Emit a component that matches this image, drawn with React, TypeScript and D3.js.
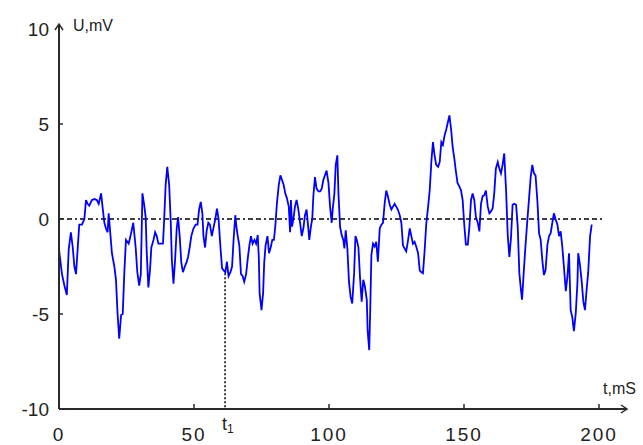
import React from "react";
import * as d3 from "d3";

const tMs: number[] = [
  0.0, 1.1, 2.0, 2.9, 3.6, 4.4, 5.1, 5.7, 6.3, 6.9, 7.5, 8.5, 9.4, 10.0, 10.6, 11.2, 12.2, 13.1, 14.0, 14.7,
  15.6, 16.2, 16.8, 17.4, 18.0, 18.4, 19.0, 19.6, 20.5, 21.1, 21.7, 22.3, 23.0, 23.6, 24.2, 24.8, 25.8, 26.7, 27.5,
  28.4, 29.0, 29.7, 30.3, 30.9, 31.5, 32.1, 32.5, 33.1, 33.7, 34.2, 35.0, 35.6, 36.2, 36.8, 37.7, 38.5, 38.9, 39.5,
  40.1, 40.8, 41.4, 41.8, 42.4, 43.0, 43.6, 44.1, 44.7, 45.3, 45.9, 46.6, 47.2, 47.8, 48.4, 49.0, 49.8, 50.6, 51.3,
  51.9, 52.5, 53.1, 53.5, 54.1, 54.7, 55.3, 55.9, 56.6,
  57.3, 57.9, 58.5, 59.1, 59.8, 60.4, 61.0, 61.6, 62.2, 62.8, 63.5, 64.1, 64.7, 65.3, 65.7, 66.2, 66.8, 67.4, 68.0,
  68.6, 69.3, 69.9, 70.5, 71.1, 71.7, 72.4, 73.0, 73.6, 74.0, 74.3, 75.0, 75.6, 76.0, 76.5, 77.2, 77.8, 78.4, 79.0,
  79.6, 80.1, 80.7, 81.4, 82.0, 82.6, 83.2, 83.8, 84.4, 85.1,
  85.6, 85.9, 86.3, 86.8, 87.4, 88.0, 88.6, 89.3, 89.9, 90.5, 91.1, 91.7, 92.4, 92.7, 93.3, 93.8, 94.2, 94.8, 95.4,
  96.1, 96.7, 97.3, 97.9, 98.5, 99.1, 99.8, 100.4, 101.0, 101.4, 102.0, 102.5, 103.1, 103.5, 104.1, 104.7, 105.3,
  105.7, 106.2, 106.8, 107.4, 108.0, 108.6, 109.3, 109.8, 110.3, 110.9, 111.5, 112.1, 112.7, 113.3, 114.0, 114.3, 114.9,
  115.3, 115.7, 116.3, 116.9, 117.5, 118.1, 118.8, 119.4, 120.0, 120.6, 121.2, 121.8, 122.5, 123.1, 123.7, 124.3,
  124.9, 125.5, 126.2, 126.8, 127.4, 128.0, 128.6, 129.3, 129.9, 130.5, 131.1, 131.7, 132.3, 133.0, 133.6, 134.2,
  134.8, 135.4, 136.0, 136.7, 137.3, 137.9, 138.5, 139.1, 139.7, 140.4, 141.0, 141.6, 142.2, 142.8, 143.4, 143.8,
  144.6, 145.2, 145.8, 146.4, 147.0, 147.6, 148.3, 148.9, 149.5, 150.1, 150.7, 151.4, 152.0, 152.6, 153.2, 153.8,
  154.4, 155.1, 155.7, 156.3, 156.9, 157.5, 158.1, 158.8, 159.4, 160.0, 160.6, 161.2, 161.8, 162.5, 163.1, 163.7,
  164.3, 164.9, 165.6, 166.2, 166.8, 167.4, 168.0, 168.6, 169.3, 169.9, 170.5, 171.1, 171.5, 172.1,
  172.8, 173.5, 174.1, 174.7, 175.3, 175.9, 176.5, 177.2, 177.8, 178.4, 179.0, 179.6, 180.2, 180.9, 181.5, 182.1,
  182.7, 183.3, 183.9, 184.6, 185.2, 185.8, 186.4, 187.0, 187.7, 188.3, 188.9, 189.5, 190.1, 190.7, 191.4, 192.0,
  192.3, 192.9, 193.6, 194.2, 194.8, 195.4, 196.0, 196.7, 197.3,
];

const uMv: number[] = [
  -1.6, -2.9, -3.5, -4.0, -1.6, -0.7, -1.5, -2.5, -2.9, -1.6, -0.3, -0.3, 0.0, 1.0, 0.8, 0.7, 1.0, 1.05, 1.0, 0.8,
  1.35, 0.55, -0.2, -0.5, -0.7, 0.3, -0.75, -1.8, -2.5, -3.2, -5.0, -6.3, -5.05, -5.0, -2.8, -1.1, -1.3, -0.75, -0.2,
  -1.5, -2.8, -3.5, -2.9, 1.35, 0.8, 0.1, -1.8, -3.6, -2.7, -1.5, -1.1, -0.7, -0.9, -1.3, -1.3, -1.3, -0.2, 1.8,
  2.75, 1.8, -0.2, -2.15, -3.4, -2.15, -0.5, 0.1, -0.9, -2.3, -2.8, -2.5, -2.3, -2.0, -1.5, -0.9, -0.5, -0.3, -0.3,
  0.5, 0.9, 0.3, -0.9, -1.5, -0.6, -0.2, -0.3, -0.9,
  -0.4, 0.0, 0.55, 0.0, -1.5, -2.6, -2.7, -2.8, -2.25, -3.0, -2.8, -2.5, -1.0, 0.2, -0.4, -0.9, -1.4, -2.9, -3.0,
  -3.3, -2.9, -2.1, -1.4, -0.9, -1.3, -1.1, -1.3, -0.85, -2.0, -3.9, -4.8, -3.9, -2.3, -1.4, -0.9, -1.8, -1.5, -1.1,
  -1.1, -0.4, 0.8, 1.8, 2.3, 2.05, 1.8, 1.35, 1.1, 0.65,
  -0.7, 1.0, -0.4, 0.0, 0.65, 1.0, 0.55, -0.2, -0.9, -0.5, 0.2, 0.5, -0.6, -1.1, -0.4, 0.0, 1.2, 2.2, 1.6,
  1.45, 1.45, 1.6, 2.05, 2.3, 2.55, 1.9, 0.65, -0.2, 0.55, 1.35, 2.85, 3.35, 1.35, -0.4, -0.85, -1.1,
  -1.55, -0.6, -1.55, -3.3, -4.1, -4.45, -2.85, -0.9, -1.1, -1.5, -3.1, -4.35, -3.2, -3.55, -4.25, -5.85, -6.9,
  -4.6, -1.9, -1.3, -1.45, -1.2, -2.25, -0.5, -0.3, -0.2, 0.8, 1.5, 1.2, 0.75, 0.5, 0.65, 0.8,
  0.65, 0.5, 0.2, -0.2, -1.4, -1.55, -1.7, -1.1, -0.5, -0.9, -1.3, -1.2, -1.45, -1.8, -2.7, -2.8,
  -2.85, -1.7, -0.3, 0.65, 1.5, 3.0, 4.05, 3.35, 2.85, 2.75, 3.0, 4.05, 3.9, 4.4, 4.7, 4.95,
  5.45, 4.75, 3.8, 3.2, 2.5, 1.9, 1.7, 1.5, 1.0, -0.3, -1.35, -1.35, -0.4, 1.0, 1.35, 1.0,
  0.1, -0.2, -0.65, 0.8, 1.2, 1.25, 1.5, 0.65, 0.3, 0.4, 0.55, 1.35, 2.65, 3.0, 2.65, 2.4,
  2.85, 3.45, 1.45, -0.85, -2.0, -1.0, 0.75, 0.8, 0.75, -0.4, -2.85, -3.75, -4.25, -2.85,
  -1.35, 0.0, 1.1, 2.2, 2.85, 2.4, 2.3, 0.9, -0.75, -1.1, -2.15, -2.95, -2.7, -1.35, -0.9, -0.75,
  -0.2, 0.3, 0.0, -0.3, -0.9, -0.65, -1.45, -2.5, -3.8, -3.05, -1.8, -4.8, -5.15, -5.9, -4.95, -3.4,
  -1.8, -2.35, -3.3, -4.35, -4.8, -3.75, -2.8, -0.9, -0.3,
];

const xTicks: number[] = [50, 100, 150, 200];
const xLabels: number[] = [0, 50, 100, 150, 200];
const yTicks: number[] = [-5, 0, 5];
const yLabels: number[] = [-10, -5, 0, 5, 10];
const t1 = 61.5;
const t1Value = -2.85;

export default function App() {
  const W = 643;
  const H = 445;
  const x = d3.scaleLinear().domain([0, 200]).range([59, 599]);
  const y = d3.scaleLinear().domain([-10, 10]).range([409, 29]);

  const pts: [number, number][] = tMs.map((t, i) => [t, uMv[i]]);
  const line = d3
    .line<[number, number]>()
    .x((d) => x(d[0]))
    .y((d) => y(d[1]));

  const axisColor = "#2a2a2a";
  const font = "'Liberation Sans', Arial, sans-serif";
  const x0 = x(0);
  const yBase = y(-10);
  const yTop = 24;
  const xEnd = 627;

  return (
    <svg
      width={W}
      height={H}
      style={{ position: "absolute", left: 0, top: 0, background: "#fff" }}
    >
      <rect width={W} height={H} fill="#fff" />
      <line
        x1={x0}
        x2={603}
        y1={y(0)}
        y2={y(0)}
        stroke="#000"
        strokeWidth={1.5}
        strokeDasharray="5,3,5,3,2,3"
      />
      <line
        x1={x(t1)}
        x2={x(t1)}
        y1={y(t1Value)}
        y2={yBase}
        stroke="#000"
        strokeWidth={1.5}
        strokeDasharray="2,2"
      />
      <path d={line(pts) || ""} fill="none" stroke="#0000ff" strokeWidth={1.8} strokeLinejoin="miter" />

      <line x1={x0} x2={x0} y1={yBase} y2={yTop} stroke={axisColor} strokeWidth={2} />
      <line x1={x0} x2={xEnd} y1={yBase} y2={yBase} stroke={axisColor} strokeWidth={2} />
      <polyline
        points={`${x0 - 4},${yTop + 6} ${x0},${yTop} ${x0 + 4},${yTop + 6}`}
        fill="none"
        stroke={axisColor}
        strokeWidth={1.5}
      />
      <polyline
        points={`${xEnd - 6},${yBase - 4} ${xEnd},${yBase} ${xEnd - 6},${yBase + 4}`}
        fill="none"
        stroke={axisColor}
        strokeWidth={1.5}
      />
      {yTicks.map((v) => (
        <line key={"yt" + v} x1={x0} x2={x0 + 4} y1={y(v)} y2={y(v)} stroke={axisColor} strokeWidth={1.5} />
      ))}
      {xTicks.map((v) => (
        <line key={"xt" + v} x1={x(v)} x2={x(v)} y1={yBase} y2={yBase - 5} stroke={axisColor} strokeWidth={1.5} />
      ))}
      {yLabels.map((v) => (
        <text
          key={"yl" + v}
          x={49}
          y={y(v)}
          textAnchor="end"
          dominantBaseline="central"
          fontFamily={font}
          fontSize={19}
          fill="#222"
        >
          {v}
        </text>
      ))}
      {xLabels.map((v) => (
        <text
          key={"xl" + v}
          x={x(v)}
          y={434}
          textAnchor="middle"
          dominantBaseline="central"
          fontFamily={font}
          fontSize={19}
          letterSpacing={2}
          fill="#222"
        >
          {v}
        </text>
      ))}
      <text x={x(t1) - 3} y={430} fontFamily={font} fontSize={18} fill="#222">
        t
        <tspan fontSize={12} dy={3}>
          1
        </tspan>
      </text>
      <text x={73} y={31} fontFamily={font} fontSize={16} fill="#222">
        U,mV
      </text>
      <text x={603} y={394} fontFamily={font} fontSize={16} fill="#222">
        t,mS
      </text>
    </svg>
  );
}
